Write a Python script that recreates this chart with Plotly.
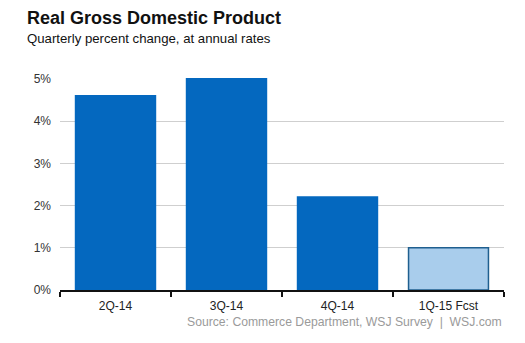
import plotly.graph_objects as go

categories = ["2Q-14", "3Q-14", "4Q-14", "1Q-15 Fcst"]
values = [4.6, 5.0, 2.2, 1.0]
fill_colors = ["#0468bf", "#0468bf", "#0468bf", "#a9cdec"]
line_colors = ["#0468bf", "#0468bf", "#0468bf", "#1f5f8f"]
y_ticks = [0, 1, 2, 3, 4, 5]
y_tick_labels = ["0%", "1%", "2%", "3%", "4%", "5%"]

fig = go.Figure()
fig.add_trace(go.Bar(
    x=categories, y=values,
    marker=dict(color=fill_colors, line=dict(color=line_colors, width=1.5)),
    width=0.72,
))

fig.update_layout(
    width=525, height=343,
    margin=dict(l=60, r=21, t=78, b=53),
    paper_bgcolor="white", plot_bgcolor="white",
    showlegend=False,
    font=dict(family="Liberation Sans, Arial, sans-serif", color="#222"),
    xaxis=dict(
        type="category",
        showline=True, linecolor="#111", linewidth=2,
        ticks="outside", tickson="boundaries", ticklen=5, tickcolor="#111", tickwidth=2,
        tickfont=dict(size=12, color="#222"),
        ticklabelstandoff=4,
        showgrid=False,
    ),
    yaxis=dict(
        range=[0, 5.02],
        tickvals=y_ticks, ticktext=y_tick_labels,
        showgrid=True, gridcolor="#cfcfcf", gridwidth=1,
        zeroline=False, showline=False,
        tickfont=dict(size=12, color="#333"),
        ticklabelstandoff=8,
    ),
)

fig.add_annotation(text="<b>Real Gross Domestic Product</b>", xref="paper", yref="paper",
                   x=-35/444, y=1 + (78 - 18) / 212, xanchor="left", yanchor="middle",
                   showarrow=False, font=dict(size=18, color="#111"))
fig.add_annotation(text="Quarterly percent change, at annual rates", xref="paper", yref="paper",
                   x=-35/444, y=1 + (78 - 38) / 212, xanchor="left", yanchor="middle",
                   showarrow=False, font=dict(size=13.2, color="#111"))
fig.add_annotation(text="Source: Commerce Department, WSJ Survey  |  WSJ.com", xref="paper", yref="paper",
                   x=1.0, y=-(322 - 290) / 212, xanchor="right", yanchor="middle",
                   showarrow=False, font=dict(size=12.2, color="#9a9a9a"))

fig.write_html("out.html")
